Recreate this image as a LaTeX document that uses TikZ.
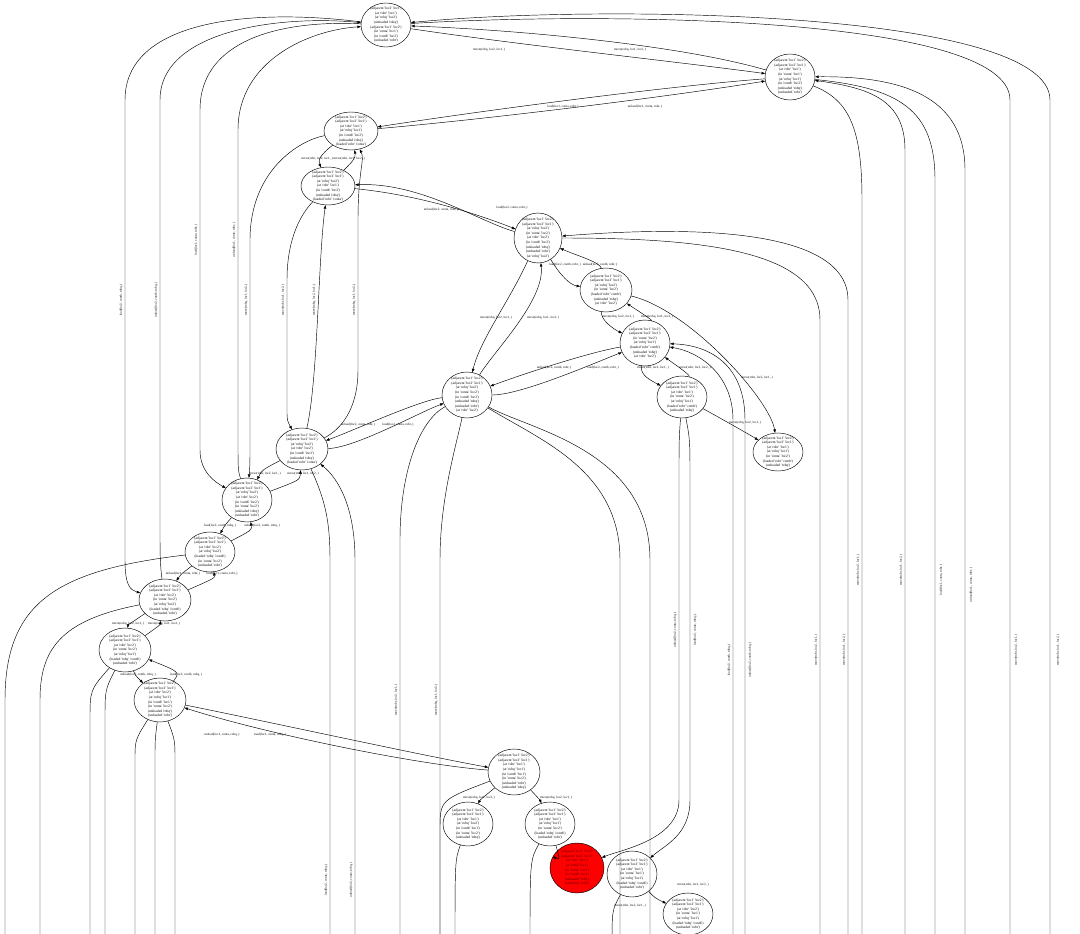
\documentclass[tikz,border=0pt]{standalone}
\usepackage{fontspec}
\setmainfont{Liberation Serif}
\usetikzlibrary{arrows.meta,shapes.geometric}
\newcommand\qt[1]{\textquotesingle#1\textquotesingle}
\begin{document}
\begin{tikzpicture}[x=1pt,y=-1pt,
 st/.style={draw,ellipse,inner sep=-8pt,minimum width=50pt,minimum height=44pt,align=center,font=\fontsize{3.6}{4.6}\selectfont,line width=0.45pt},
 e/.style={draw,line width=0.45pt,-{Triangle[length=3.5pt,width=2.6pt]}},
 lab/.style={font=\fontsize{3.3}{4}\selectfont,inner sep=0pt},
 vlab/.style={lab,rotate=90}]
\useasboundingbox (0,0) rectangle (1080,934);
\fill[white] (0,0) rectangle (1080,934);
\clip (0,0) rectangle (1080,934);
% nodes
\node[st] (n1) at (386,25) {(adjacent \qt{loc2} \qt{loc1})\\(at \qt{robr} \qt{loc1})\\(at \qt{robq} \qt{loc2})\\(unloaded \qt{robq})\\(adjacent \qt{loc1} \qt{loc2})\\(in \qt{conta} \qt{loc1})\\(in \qt{contb} \qt{loc2})\\(unloaded \qt{robr})};
\node[st,minimum height=46pt] (n2) at (790,77) {(adjacent \qt{loc1} \qt{loc2})\\(adjacent \qt{loc2} \qt{loc1})\\(at \qt{robr} \qt{loc1})\\(in \qt{conta} \qt{loc1})\\(at \qt{robq} \qt{loc1})\\(in \qt{contb} \qt{loc2})\\(unloaded \qt{robq})\\(unloaded \qt{robr})};
\node[st,minimum width=54pt,minimum height=38pt] (n3) at (351,131) {(adjacent \qt{loc1} \qt{loc2})\\(adjacent \qt{loc2} \qt{loc1})\\(at \qt{robr} \qt{loc1})\\(at \qt{robq} \qt{loc1})\\(in \qt{contb} \qt{loc2})\\(unloaded \qt{robq})\\(loaded \qt{robr} \qt{conta})};
\node[st,minimum width=54pt,minimum height=38pt] (n4) at (328,186) {(adjacent \qt{loc1} \qt{loc2})\\(adjacent \qt{loc2} \qt{loc1})\\(at \qt{robq} \qt{loc2})\\(at \qt{robr} \qt{loc1})\\(in \qt{contb} \qt{loc2})\\(unloaded \qt{robq})\\(loaded \qt{robr} \qt{conta})};
\node[st,minimum width=48pt,minimum height=50pt] (n5) at (538,238) {(adjacent \qt{loc1} \qt{loc2})\\(adjacent \qt{loc2} \qt{loc1})\\(at \qt{robq} \qt{loc2})\\(in \qt{conta} \qt{loc2})\\(at \qt{robr} \qt{loc2})\\(in \qt{contb} \qt{loc2})\\(unloaded \qt{robq})\\(unloaded \qt{robr})\\(at \qt{robq} \qt{loc2})};
\node[st,minimum width=52pt] (n6) at (606,290) {(adjacent \qt{loc1} \qt{loc2})\\(adjacent \qt{loc2} \qt{loc1})\\(at \qt{robq} \qt{loc2})\\(in \qt{conta} \qt{loc2})\\(loaded \qt{robr} \qt{contb})\\(unloaded \qt{robq})\\(at \qt{robr} \qt{loc2})};
\node[st,minimum height=46pt] (n7) at (645,343) {(adjacent \qt{loc1} \qt{loc2})\\(adjacent \qt{loc2} \qt{loc1})\\(in \qt{conta} \qt{loc2})\\(at \qt{robq} \qt{loc1})\\(loaded \qt{robr} \qt{contb})\\(unloaded \qt{robq})\\(at \qt{robr} \qt{loc2})};
\node[st,minimum height=42pt] (n8) at (682,397) {(adjacent \qt{loc1} \qt{loc2})\\(adjacent \qt{loc2} \qt{loc1})\\(at \qt{robr} \qt{loc1})\\(in \qt{conta} \qt{loc2})\\(at \qt{robq} \qt{loc1})\\(loaded \qt{robr} \qt{contb})\\(unloaded \qt{robq})};
\node[st,minimum height=38pt] (n9) at (778,452) {(adjacent \qt{loc1} \qt{loc2})\\(adjacent \qt{loc2} \qt{loc1})\\(at \qt{robr} \qt{loc1})\\(at \qt{robq} \qt{loc1})\\(in \qt{conta} \qt{loc2})\\(loaded \qt{robr} \qt{contb})\\(unloaded \qt{robq})};
\node[st,minimum height=46pt] (n10) at (467,395) {(adjacent \qt{loc1} \qt{loc2})\\(adjacent \qt{loc2} \qt{loc1})\\(at \qt{robq} \qt{loc2})\\(in \qt{conta} \qt{loc2})\\(in \qt{contb} \qt{loc2})\\(unloaded \qt{robq})\\(unloaded \qt{robr})\\(at \qt{robr} \qt{loc2})};
\node[st,minimum width=52pt,minimum height=42pt] (n11) at (302,449) {(adjacent \qt{loc1} \qt{loc2})\\(adjacent \qt{loc2} \qt{loc1})\\(at \qt{robq} \qt{loc2})\\(at \qt{robr} \qt{loc2})\\(in \qt{contb} \qt{loc2})\\(unloaded \qt{robq})\\(loaded \qt{robr} \qt{conta})};
\node[st] (n12) at (247,500) {(adjacent \qt{loc1} \qt{loc2})\\(adjacent \qt{loc2} \qt{loc1})\\(at \qt{robq} \qt{loc2})\\(at \qt{robr} \qt{loc2})\\(in \qt{contb} \qt{loc2})\\(in \qt{conta} \qt{loc2})\\(unloaded \qt{robq})\\(unloaded \qt{robr})};
\node[st,minimum height=40pt] (n13) at (210,552) {(adjacent \qt{loc1} \qt{loc2})\\(adjacent \qt{loc2} \qt{loc1})\\(at \qt{robr} \qt{loc2})\\(at \qt{robq} \qt{loc2})\\(loaded \qt{robq} \qt{contb})\\(in \qt{conta} \qt{loc2})\\(unloaded \qt{robr})};
\node[st,minimum width=52pt,minimum height=42pt] (n14) at (165,600) {(adjacent \qt{loc1} \qt{loc2})\\(adjacent \qt{loc2} \qt{loc1})\\(at \qt{robr} \qt{loc2})\\(in \qt{conta} \qt{loc2})\\(at \qt{robq} \qt{loc2})\\(loaded \qt{robq} \qt{contb})\\(unloaded \qt{robr})};
\node[st,minimum width=52pt] (n15) at (125,650) {(adjacent \qt{loc1} \qt{loc2})\\(adjacent \qt{loc2} \qt{loc1})\\(at \qt{robr} \qt{loc2})\\(in \qt{conta} \qt{loc2})\\(at \qt{robq} \qt{loc1})\\(loaded \qt{robq} \qt{contb})\\(unloaded \qt{robr})};
\node[st,minimum width=52pt] (n16) at (160,700) {(adjacent \qt{loc1} \qt{loc2})\\(adjacent \qt{loc2} \qt{loc1})\\(at \qt{robr} \qt{loc2})\\(at \qt{robq} \qt{loc1})\\(in \qt{contb} \qt{loc1})\\(in \qt{conta} \qt{loc2})\\(unloaded \qt{robq})\\(unloaded \qt{robr})};
\node[st,minimum width=52pt,minimum height=46pt] (n17) at (514,772) {(adjacent \qt{loc1} \qt{loc2})\\(adjacent \qt{loc2} \qt{loc1})\\(at \qt{robr} \qt{loc1})\\(at \qt{robq} \qt{loc1})\\(in \qt{contb} \qt{loc1})\\(in \qt{conta} \qt{loc2})\\(unloaded \qt{robr})\\(unloaded \qt{robq})};
\node[st] (n18) at (468,824) {(adjacent \qt{loc1} \qt{loc2})\\(adjacent \qt{loc2} \qt{loc1})\\(at \qt{robr} \qt{loc1})\\(at \qt{robq} \qt{loc2})\\(in \qt{contb} \qt{loc1})\\(in \qt{conta} \qt{loc2})\\(unloaded \qt{robq})};
\node[st] (n19) at (550,824) {(adjacent \qt{loc1} \qt{loc2})\\(adjacent \qt{loc2} \qt{loc1})\\(at \qt{robr} \qt{loc1})\\(at \qt{robq} \qt{loc1})\\(in \qt{conta} \qt{loc2})\\(loaded \qt{robq} \qt{contb})\\(unloaded \qt{robr})};
\node[st,minimum height=46pt] (n21) at (632,874) {(adjacent \qt{loc1} \qt{loc2})\\(adjacent \qt{loc2} \qt{loc1})\\(at \qt{robr} \qt{loc1})\\(in \qt{conta} \qt{loc1})\\(at \qt{robq} \qt{loc1})\\(loaded \qt{robq} \qt{contb})\\(unloaded \qt{robr})};
\node[st,fill=red,minimum width=54pt,minimum height=50pt,text=red!35!black] (n20) at (577,868) {(adjacent \qt{loc1} \qt{loc2})\\(adjacent \qt{loc2} \qt{loc1})\\(at \qt{robr} \qt{loc1})\\(at \qt{robq} \qt{loc1})\\(in \qt{conta} \qt{loc1})\\(in \qt{contb} \qt{loc2})\\(unloaded \qt{robq})\\(unloaded \qt{robr})};
\node[st,minimum height=42pt] (n22) at (688,914) {(adjacent \qt{loc1} \qt{loc2})\\(adjacent \qt{loc2} \qt{loc1})\\(at \qt{robr} \qt{loc2})\\(in \qt{conta} \qt{loc1})\\(at \qt{robq} \qt{loc1})\\(loaded \qt{robq} \qt{contb})\\(unloaded \qt{robr})};
% edges top
\draw[e] (n1) .. controls (520,45) and (680,62) .. (n2);
\node[lab] (l1) at (489,50) {move(robq, loc2, loc1, )};
\draw[e] (n2) .. controls (680,45) and (520,30) .. (n1);
\node[lab] (l2) at (630,50) {move(robq, loc1, loc2, )};
\draw[e] (n1) .. controls (250,8) and (125,20) .. (125,100) -- (125,560) .. controls (125,585) and (130,590) .. (n14);
\node[vlab] (l3) at (121,300) {load(loc2, contb, robq, )};
\draw[e] (n14) .. controls (160,565) and (160,550) .. (160,530) -- (160,100) .. controls (160,30) and (280,15) .. (n1);
\node[vlab] (l4) at (156,300) {unload(loc2, contb, robq, )};
\draw[e] (n1) .. controls (280,20) and (200,40) .. (200,110) -- (200,450) .. controls (200,472) and (215,482) .. (n12);
\node[vlab] (l5) at (196,240) {load(loc1, conta, robr, )};
\draw[e] (n12) .. controls (238,470) .. (238,440) -- (238,130) .. controls (238,60) and (310,30) .. (n1);
\node[vlab] (l6) at (234,240) {unload(loc1, conta, robr, )};
\draw[e] (n1) .. controls (600,12) and (1010,15) .. (1010,100) -- (1010,950);
\node[vlab] (l7) at (1016,650) {move(robr, loc2, loc1, )};
\draw[e] (1050,950) -- (1050,100) .. controls (1050,10) and (600,4) .. (n1);
\node[vlab] (l8) at (1058,650) {move(robr, loc1, loc2, )};
\draw[e] (n3) .. controls (500,118) and (680,95) .. (n2);
\node[lab] (l9) at (563,107) {load(loc1, conta, robr, )};
\draw[e] (n2) .. controls (680,85) and (500,108) .. (n3);
\node[lab] (l10) at (645,107) {unload(loc1, conta, robr, )};
\draw[e] (n3) .. controls (320,155) and (318,160) .. (n4);
\node[lab] (l11) at (317,159) {move(robr, loc2, loc1, )};
\draw[e] (n4) .. controls (352,162) and (356,158) .. (n3);
\node[lab] (l12) at (349,159) {move(robr, loc1, loc2, )};
\draw[e] (n4) .. controls (420,195) and (480,215) .. (n5);
\node[lab] (l13) at (441,210) {unload(loc2, conta, robr, )};
\draw[e] (n5) .. controls (480,222) and (420,182) .. (n4);
\node[lab] (l14) at (512,208) {load(loc2, conta, robr, )};
\draw[e] (n5) .. controls (560,275) and (570,285) .. (n6);
\node[lab] (l15) at (565,265) {load(loc2, contb, robr, )};
\draw[e] (n6) .. controls (600,262) and (575,255) .. (n5);
\node[lab] (l16) at (600,265) {unload(loc2, contb, robr, )};
\draw[e] (n5) .. controls (510,300) and (480,340) .. (n10);
\node[lab] (l17) at (496,318) {move(robq, loc2, loc1, )};
\draw[e] (n10) .. controls (495,350) and (545,300) .. (n5);
\node[lab] (l18) at (543,318) {move(robq, loc1, loc2, )};
\draw[e] (n6) .. controls (600,320) and (615,330) .. (n7);
\node[lab] (l19) at (618,317) {move(robq, loc2, loc1, )};
\draw[e] (n7) .. controls (652,320) and (640,312) .. (n6);
\node[lab] (l20) at (657,317) {move(robq, loc1, loc2, )};
\draw[e] (n6) .. controls (690,310) and (770,400) .. (n9);
\node[lab] (l21) at (757,378) {move(robr, loc2, loc1, )};
\draw[e] (n7) .. controls (640,375) and (650,380) .. (n8);
\node[lab] (l22) at (653,368) {move(robr, loc2, loc1, )};
\draw[e] (n8) .. controls (690,375) and (680,368) .. (n7);
\node[lab] (l23) at (695,368) {move(robr, loc1, loc2, )};
\draw[e] (n7) .. controls (590,352) and (520,375) .. (n10);
\node[lab] (l24) at (554,368) {unload(loc2, contb, robr, )};
\draw[e] (n10) .. controls (520,395) and (590,365) .. (n7);
\node[lab] (l25) at (603,368) {load(loc2, contb, robr, )};
\draw[e] (n8) .. controls (720,418) and (745,432) .. (n9);
\node[lab] (l26) at (745,423) {move(robq, loc2, loc1, )};
\draw[e] (n10) .. controls (420,400) and (350,432) .. (n11);
\node[lab] (l27) at (358,425) {unload(loc2, conta, robr, )};
\draw[e] (n11) .. controls (355,448) and (420,412) .. (n10);
\node[lab] (l28) at (398,425) {load(loc2, conta, robr, )};
\draw[e] (n3) .. controls (300,140) and (250,170) .. (250,240) -- (250,440) .. controls (250,465) .. (n12);
\node[vlab] (l29) at (246,300) {move(robq, loc1, loc2, )};
\draw[e] (n4) .. controls (300,215) and (287,240) .. (287,280) -- (287,410) .. controls (287,420) .. (n11);
\node[vlab] (l30) at (283,300) {move(robr, loc1, loc2, )};
\draw[e] (n11) .. controls (318,380) and (318,260) .. (n4);
\node[vlab] (l31) at (314,300) {move(robq, loc2, loc1, )};
\draw[e] (n11) .. controls (340,430) and (358,410) .. (358,370) -- (358,220) .. controls (358,170) and (365,160) .. (n3);
\node[vlab] (l32) at (354,300) {move(robq, loc1, loc2, )};
\draw[e] (n11) .. controls (262,470) .. (n12);
\node[lab] (l59) at (265,474) {move(robr, loc2, loc1, )};
\draw[e] (n12) .. controls (300,480) .. (n11);
\node[lab] (l60) at (303,474) {move(robr, loc1, loc2, )};
% right side long edges
\draw[e] (n2) .. controls (850,100) and (862,130) .. (862,200) -- (862,950);
\node[vlab] (l33) at (858,570) {move(robr, loc2, loc1, )};
\draw[e] (905,950) -- (905,150) .. controls (905,100) and (870,88) .. (n2);
\node[vlab] (l34) at (901,570) {move(robr, loc1, loc2, )};
\draw[e] (n2) .. controls (900,88) and (935,110) .. (935,180) -- (935,950);
\node[vlab] (l35) at (941,580) {load(loc1, conta, robr, )};
\draw[e] (965,950) -- (965,170) .. controls (965,95) and (900,76) .. (n2);
\node[vlab] (l36) at (971,585) {unload(loc1, conta, robr, )};
\draw[e] (n5) .. controls (700,238) and (820,250) .. (820,320) -- (820,950);
\node[vlab] (l37) at (816,650) {move(robr, loc2, loc1, )};
\draw[e] (848,950) -- (848,300) .. controls (848,230) and (700,225) .. (n5);
\node[vlab] (l38) at (844,650) {move(robr, loc1, loc2, )};
\draw[e] (733,950) -- (733,420) .. controls (733,375) and (700,352) .. (n7);
\node[vlab] (l39) at (729,660) {load(loc2, contb, robq, )};
\draw[e] (745,950) -- (745,420) .. controls (745,365) and (710,345) .. (n7);
\node[vlab] (l40) at (750,660) {unload(loc2, contb, robq, )};
\draw[e] (n8) .. controls (679,440) .. (679,480) -- (679,800) .. controls (679,840) and (620,850) .. (n20);
\node[vlab] (l41) at (675,630) {unload(loc2, conta, robq, )};
\draw[e] (n8) .. controls (690,440) .. (690,480) -- (690,800) .. controls (690,835) and (665,845) .. (n21);
\node[vlab] (l42) at (695,630) {load(loc2, conta, robq, )};
% lower left
\draw[e] (n12) .. controls (225,525) .. (n13);
\node[lab] (l43) at (220,526) {load(loc2, contb, robq, )};
\draw[e] (n13) .. controls (252,530) .. (n12);
\node[lab] (l44) at (262,526) {unload(loc2, contb, robq, )};
\draw[e] (n13) .. controls (180,575) .. (n14);
\node[lab] (l45) at (183,574) {unload(loc1, conta, robr, )};
\draw[e] (n14) .. controls (215,578) .. (n13);
\node[lab] (l46) at (222,574) {load(loc1, conta, robr, )};
\draw[e] (n14) .. controls (128,625) .. (n15);
\node[lab] (l47) at (128,624) {move(robq, loc2, loc1, )};
\draw[e] (n15) .. controls (160,625) .. (n14);
\node[lab] (l48) at (164,624) {move(robq, loc1, loc2, )};
\draw[e] (n15) .. controls (135,675) .. (n16);
\node[lab] (l49) at (138,675) {unload(loc2, contb, robq, )};
\draw[e] (n16) .. controls (180,672) .. (n15);
\node[lab] (l50) at (186,675) {load(loc2, contb, robq, )};
\draw[e] (n16) .. controls (260,720) and (420,755) .. (n17);
\node[lab] (l51) at (222,735) {unload(loc1, conta, robq, )};
\draw[e] (n17) .. controls (420,765) and (270,735) .. (n16);
\node[lab] (l52) at (270,735) {load(loc1, conta, robq, )};
\draw[e] (n17) .. controls (480,800) .. (n18);
\node[lab] (l53) at (479,798) {move(robq, loc1, loc2, )};
\draw[e] (n17) .. controls (540,800) .. (n19);
\node[lab] (l54) at (556,798) {move(robq, loc2, loc1, )};
\draw[e] (n19) .. controls (560,860) .. (n20);
\draw[e] (n21) .. controls (655,898) .. (n22);
\node[lab] (l55) at (630,906) {move(robr, loc2, loc1, )};
\node[lab] (l56) at (693,885) {move(robr, loc1, loc2, )};
% off-canvas edges from lower nodes
\draw[e] (n13) .. controls (60,570) and (5,600) .. (5,700) -- (5,950);
\draw[e] (n14) .. controls (60,620) and (40,650) .. (40,700) -- (40,950);
\draw[e] (n15) .. controls (90,690) .. (90,720) -- (90,950);
\draw[e] (n15) .. controls (105,690) .. (105,720) -- (105,950);
\draw[e] (n16) .. controls (135,740) .. (135,760) -- (135,950);
\draw[e] (n16) .. controls (155,740) .. (155,760) -- (155,950);
\draw[e] (n16) .. controls (175,740) .. (175,760) -- (175,950);
\draw[e] (n17) .. controls (440,800) .. (440,830) -- (440,950);
\draw[e] (n18) .. controls (455,860) .. (455,950);
\draw[e] (n19) .. controls (530,860) .. (530,950);
\draw[e] (n21) .. controls (612,910) .. (612,950);
\draw[e] (n10) .. controls (455,450) and (440,500) .. (440,560) -- (440,950);
\node[vlab] (l57) at (436,700) {move(robq, loc1, loc2, )};
\draw[e] (n10) .. controls (420,420) and (400,470) .. (400,540) -- (400,950);
\node[vlab] (l58) at (396,700) {move(robr, loc2, loc1, )};
\draw[e] (n10) .. controls (540,440) and (620,470) .. (620,560) -- (620,950);
\draw[e] (n10) .. controls (530,430) and (650,450) .. (650,560) -- (650,950);
\draw[e] (n11) .. controls (325,500) and (330,520) .. (330,560) -- (330,950);
\node[vlab] (l61) at (326,880) {load(loc2, conta, robq, )};
\draw[e] (355,950) -- (355,560) .. controls (355,510) and (340,480) .. (n11);
\node[vlab] (l62) at (351,880) {unload(loc2, conta, robq, )};
\end{tikzpicture}
\end{document}
